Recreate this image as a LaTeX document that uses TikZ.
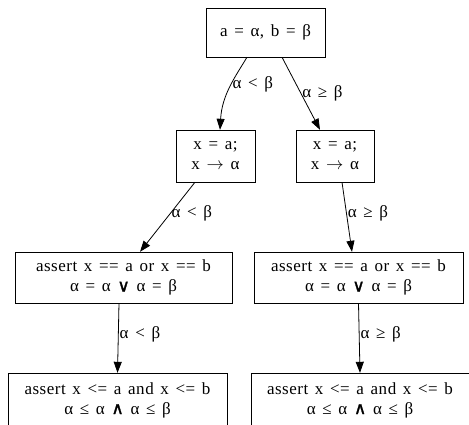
\documentclass[tikz,border=0pt]{standalone}
\usepackage{fontspec}
\setmainfont{Liberation Serif}[LetterSpace=3,WordSpace=1.4]
\newfontfamily\logicfont{DejaVu Sans}[FakeBold=1.5]
\usetikzlibrary{arrows.meta}
\newcommand{\orsym}{{\logicfont ∨}}
\newcommand{\andsym}{{\logicfont ∧}}
\newcommand{\tosym}{$\rightarrow$}

\begin{document}
\begin{tikzpicture}[
		x=1pt, y=-1pt,
		every node/.style={rectangle,draw,inner sep=0pt,align=center,font=\fontsize{17}{20}\selectfont},
		lbl/.style={draw=none,fill=none,inner sep=1pt},
		edge/.style={-{Triangle[length=11pt,width=8pt]},line width=0.8pt}]
		\useasboundingbox[fill=white] (0,0) rectangle (469,424);

		\node[minimum width=119, minimum height=49] (init)  at (265.5,32.5) {a = α, b = β};
		\node[minimum width=79, minimum height=52]  (lt)    at (215.5,156)  {x = a;\\x \tosym{} α};
		\node[minimum width=78, minimum height=52]  (ge)    at (335,156)    {x = a;\\x \tosym{} α};
		\node[minimum width=217, minimum height=51] (ltor)  at (123.5,277.5) {assert x == a or x == b\\α = α \orsym{} α = β};
		\node[minimum width=209, minimum height=51] (geor)  at (358.5,277.5) {assert x == a or x == b\\α = α \orsym{} α = β};
		\node[minimum width=219, minimum height=54] (ltand) at (117.5,400)  {assert x <= a and x <= b\\α ≤ α \andsym{} α ≤ β};
		\node[minimum width=218, minimum height=54] (geand) at (360,400)    {assert x <= a and x <= b\\α ≤ α \andsym{} α ≤ β};

		\draw[edge] ([xshift=-18.5]init.south) .. controls +(-12,20) and +(2,-35) .. node[lbl,right,pos=0.45]{α < β} ([xshift=4.5]lt.north);
		\draw[edge] ([xshift=16.5]init.south) -- node[lbl,right,pos=0.5]{α ≥ β} ([xshift=-15]ge.north);
		\draw[edge] ([xshift=-20.5]lt.south) -- node[lbl,right,pos=0.45]{α < β} ([xshift=16.5]ltor.north);
		\draw[edge] ([xshift=7]ge.south) -- node[lbl,right,pos=0.45]{α ≥ β} ([xshift=-6.5]geor.north);
		\draw[edge] ([xshift=-4.5]ltor.south) -- node[lbl,right,pos=0.45]{α < β} (ltand.north);
		\draw[edge] (geor.south) -- node[lbl,right,pos=0.45]{α ≥ β} (geand.north);
\end{tikzpicture}
\end{document}
